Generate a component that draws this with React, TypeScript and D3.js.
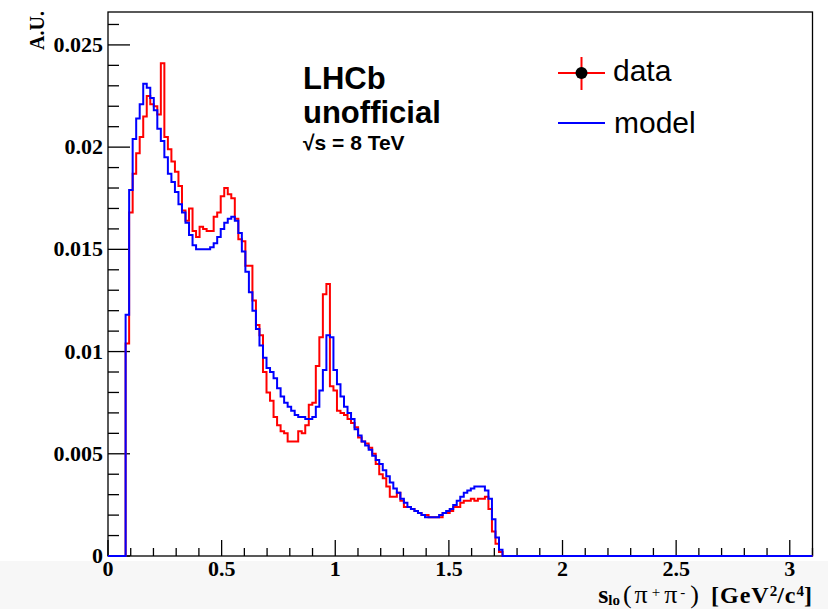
import React from "react";
import * as d3 from "d3";

// Histogram binning (200 bins over [0, 3.1]); values start at bin FIRST_BIN
const X_MAX = 3.1;
const N_BINS = 200;
const FIRST_BIN = 5;
const Y_MAX = 0.02661;

const dataValues = [
  0.0104, 0.0168, 0.0187, 0.0197, 0.0205, 0.0215, 0.0225, 0.0221, 0.022, 0.0216,
  0.0241, 0.0205, 0.0199, 0.0193, 0.0188, 0.0181, 0.0169, 0.0164, 0.017, 0.0159,
  0.0156, 0.0161, 0.016, 0.0159, 0.0159, 0.0166, 0.0168, 0.0176, 0.018, 0.0177,
  0.0175, 0.0165, 0.0155, 0.0154, 0.0142, 0.0142, 0.0125, 0.0113, 0.0108, 0.009,
  0.008, 0.0076, 0.0068, 0.0064, 0.0061, 0.006, 0.0056, 0.0056, 0.0056, 0.0061,
  0.006, 0.0064, 0.0074, 0.0075, 0.0093, 0.0107, 0.0128, 0.0133, 0.0083, 0.0081,
  0.0071, 0.007, 0.0069, 0.0067, 0.0065, 0.0063, 0.0058, 0.0056, 0.0055, 0.0053,
  0.005, 0.0045, 0.004, 0.0038, 0.0034, 0.0029, 0.0029, 0.0031, 0.0027, 0.0024,
  0.0024, 0.0023, 0.0022, 0.0021, 0.002, 0.002, 0.0019, 0.0019, 0.0019, 0.0019,
  0.0021, 0.0021, 0.0022, 0.0024, 0.0024, 0.0026, 0.0027, 0.0027, 0.0028, 0.0027,
  0.0028, 0.0028, 0.0029, 0.0023, 0.0012, 0.0006, 0.0002,
];

const modelValues = [
  0.0118, 0.0179, 0.0204, 0.0214, 0.0221, 0.0231, 0.0229, 0.0224, 0.0218, 0.0209,
  0.0203, 0.0195, 0.0187, 0.0183, 0.0178, 0.0172, 0.0168, 0.0163, 0.0157, 0.0152,
  0.015, 0.015, 0.015, 0.015, 0.0151, 0.0153, 0.0156, 0.016, 0.0163, 0.0165,
  0.0166, 0.0164, 0.0158, 0.0149, 0.0139, 0.0129, 0.012, 0.0111, 0.0103, 0.0097,
  0.0092, 0.009, 0.0087, 0.0082, 0.0078, 0.0075, 0.0073, 0.0071, 0.0069, 0.0068,
  0.0068, 0.0067, 0.0067, 0.0068, 0.0073, 0.0081, 0.0091, 0.0108, 0.0107, 0.0091,
  0.0084, 0.0078, 0.0073, 0.007, 0.0067, 0.0062, 0.0059, 0.0056, 0.0054, 0.0052,
  0.0049, 0.0047, 0.0045, 0.0042, 0.0039, 0.0036, 0.0033, 0.0031, 0.0028, 0.0026,
  0.0024, 0.0023, 0.0022, 0.0021, 0.002, 0.0019, 0.0019, 0.0019, 0.0019, 0.002,
  0.0021, 0.0022, 0.0023, 0.0025, 0.0027, 0.0029, 0.0031, 0.0032, 0.0033, 0.0034,
  0.0034, 0.0034, 0.0032, 0.0028, 0.0018, 0.0009, 0.0003,
];

const yTicks = [0, 0.005, 0.01, 0.015, 0.02, 0.025];
const yTickLabels = ["0", "0.005", "0.01", "0.015", "0.02", "0.025"];
const xTicks = [0, 0.5, 1, 1.5, 2, 2.5, 3];
const xTickLabels = ["0", "0.5", "1", "1.5", "2", "2.5", "3"];

const legendLabels = ["data", "model"];

const SERIF = "'Liberation Serif', 'DejaVu Serif', serif";
const SANS = "'Liberation Sans', Arial, Helvetica, sans-serif";

export default function App() {
  const W = 828;
  const H = 609;
  const frame = { left: 108, right: 812.5, top: 12, bottom: 556 };

  const x = d3.scaleLinear().domain([0, X_MAX]).range([frame.left, frame.right]);
  const y = d3.scaleLinear().domain([0, Y_MAX]).range([frame.bottom, frame.top]);
  const binW = X_MAX / N_BINS;

  const fullBins = (vals: number[]) => {
    const arr = new Array(N_BINS).fill(0);
    vals.forEach((v, i) => (arr[FIRST_BIN + i] = v));
    return arr;
  };
  const toPoints = (arr: number[]): [number, number][] => [
    ...arr.map((v, i) => [i * binW, v] as [number, number]),
    [X_MAX, arr[N_BINS - 1]],
  ];
  const line = d3
    .line<[number, number]>()
    .x((d) => x(d[0]))
    .y((d) => y(d[1]))
    .curve(d3.curveStepAfter);

  const dataPath = line(toPoints(fullBins(dataValues))) || "";
  const modelPath = line(toPoints(fullBins(modelValues))) || "";

  const yMinor = d3.range(0, 27).map((i) => i * 0.001).filter((v, i) => i % 5 !== 0 && v <= Y_MAX);
  const xMinor = d3.range(0, 32).map((i) => i * 0.1).filter((v, i) => i % 5 !== 0 && v <= X_MAX);

  const Y_MAJ = 22, Y_MIN = 11, X_MAJ = 16, X_MIN = 8;

  return (
    <svg
      width={W}
      height={H}
      style={{ position: "fixed", left: 0, top: 0, display: "block", background: "#ffffff" }}
    >
      <rect x={0} y={0} width={W} height={H} fill="#ffffff" />
      <rect x={0} y={561} width={W} height={H - 561} fill="#f7f7f7" />

      {/* frame */}
      <rect
        x={frame.left}
        y={frame.top}
        width={frame.right - frame.left}
        height={frame.bottom - frame.top}
        fill="none"
        stroke="#000"
        strokeWidth={1.3}
      />

      {/* y ticks */}
      {yTicks.map((t) => (
        <line key={"ym" + t} x1={frame.left} x2={frame.left + Y_MAJ} y1={y(t)} y2={y(t)} stroke="#000" strokeWidth={1.3} />
      ))}
      {yMinor.map((t) => (
        <line key={"yn" + t} x1={frame.left} x2={frame.left + Y_MIN} y1={y(t)} y2={y(t)} stroke="#000" strokeWidth={1.3} />
      ))}
      {/* x ticks */}
      {xTicks.map((t) => (
        <line key={"xm" + t} x1={x(t)} x2={x(t)} y1={frame.bottom} y2={frame.bottom - X_MAJ} stroke="#000" strokeWidth={1.3} />
      ))}
      {xMinor.map((t) => (
        <line key={"xn" + t} x1={x(t)} x2={x(t)} y1={frame.bottom} y2={frame.bottom - X_MIN} stroke="#000" strokeWidth={1.3} />
      ))}

      {/* y tick labels */}
      {yTicks.map((t, i) => (
        <text
          key={"yl" + t}
          x={frame.left - 5}
          y={y(t) + 7}
          textAnchor="end"
          fontFamily={SERIF}
          fontWeight="bold"
          fontSize={22}
          fill="#000"
        >
          {yTickLabels[i]}
        </text>
      ))}
      {/* x tick labels */}
      {xTicks.map((t, i) => (
        <text
          key={"xl" + t}
          x={x(t)}
          y={576}
          textAnchor="middle"
          fontFamily={SERIF}
          fontWeight="bold"
          fontSize={22}
          fill="#000"
        >
          {xTickLabels[i]}
        </text>
      ))}

      {/* axis titles */}
      <text
        transform={`translate(44, 11) rotate(-90)`}
        textAnchor="end"
        fontFamily={SERIF}
        fontWeight="bold"
        fontSize={20}
        fill="#000"
      >
        A.U.
      </text>
      <text x={812} y={603} textAnchor="end" fontFamily={SERIF} fontSize={24} fill="#000">
        <tspan fontWeight="bold" fontSize={26}>s</tspan>
        <tspan fontWeight="bold" fontSize={15} dy={2}>lo</tspan>
        <tspan dy={-2} fontSize={26} dx={3} letterSpacing={3}>(π</tspan>
        <tspan fontSize={15} dy={-6} dx={1}>+</tspan>
        <tspan dy={6} fontSize={26} dx={4}>π</tspan>
        <tspan fontSize={15} dy={-6} dx={3}>-</tspan>
        <tspan dy={6} fontSize={26} dx={5}>)</tspan>
        <tspan fontWeight="bold" dx={12} letterSpacing={1}>[GeV</tspan>
        <tspan fontWeight="bold" fontSize={15} dy={-7}>2</tspan>
        <tspan fontWeight="bold" dy={7} letterSpacing={1}>/c</tspan>
        <tspan fontWeight="bold" fontSize={15} dy={-7}>4</tspan>
        <tspan fontWeight="bold" dy={7}>]</tspan>
      </text>

      {/* histograms */}
      <path d={dataPath} fill="none" stroke="#ff0000" strokeWidth={2} />
      <path d={modelPath} fill="none" stroke="#0000ff" strokeWidth={2} />

      {/* LHCb label */}
      <text x={303} y={89} fontFamily={SANS} fontWeight="bold" fontSize={31} fill="#000">LHCb</text>
      <text x={303} y={123} fontFamily={SANS} fontWeight="bold" fontSize={31} fill="#000">unofficial</text>
      <text x={303} y={150} fontFamily={SANS} fontWeight="bold" fontSize={21} fill="#000">√s = 8 TeV</text>

      {/* legend */}
      <line x1={558} x2={605} y1={73} y2={73} stroke="#ff0000" strokeWidth={2} />
      <line x1={581.5} x2={581.5} y1={57} y2={90} stroke="#ff0000" strokeWidth={2} />
      <circle cx={581.5} cy={73} r={6} fill="#000" />
      <text x={613} y={81} fontFamily={SANS} fontSize={30} fill="#000">{legendLabels[0]}</text>
      <line x1={558} x2={605} y1={123} y2={123} stroke="#0000ff" strokeWidth={2} />
      <text x={614} y={133} fontFamily={SANS} fontSize={30} fill="#000">{legendLabels[1]}</text>
    </svg>
  );
}
